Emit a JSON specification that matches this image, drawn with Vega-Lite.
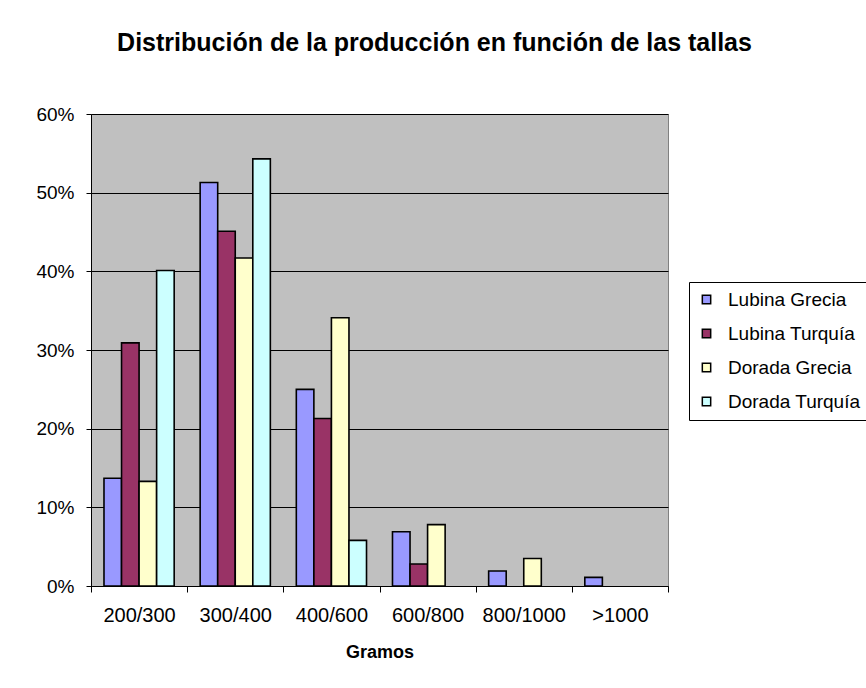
{
  "$schema": "https://vega.github.io/schema/vega-lite/v6.json",
  "width": 577,
  "height": 472,
  "autosize": {"type": "none"},
  "padding": {"left": 91, "top": 114, "right": 198, "bottom": 102},
  "background": "white",
  "title": {
    "text": "Distribución de la producción en función de las tallas",
    "anchor": "middle",
    "frame": "group",
    "dx": 55,
    "offset": 49,
    "fontSize": 25,
    "fontWeight": "bold",
    "font": "Liberation Sans",
    "color": "black"
  },
  "data": {
    "values": [
      {"talla": "200/300", "serie": "Lubina Grecia", "valor": 0.137},
      {"talla": "200/300", "serie": "Lubina Turquía", "valor": 0.309},
      {"talla": "200/300", "serie": "Dorada Grecia", "valor": 0.133},
      {"talla": "200/300", "serie": "Dorada Turquía", "valor": 0.401},
      {"talla": "300/400", "serie": "Lubina Grecia", "valor": 0.513},
      {"talla": "300/400", "serie": "Lubina Turquía", "valor": 0.451},
      {"talla": "300/400", "serie": "Dorada Grecia", "valor": 0.417},
      {"talla": "300/400", "serie": "Dorada Turquía", "valor": 0.543},
      {"talla": "400/600", "serie": "Lubina Grecia", "valor": 0.250},
      {"talla": "400/600", "serie": "Lubina Turquía", "valor": 0.213},
      {"talla": "400/600", "serie": "Dorada Grecia", "valor": 0.341},
      {"talla": "400/600", "serie": "Dorada Turquía", "valor": 0.058},
      {"talla": "600/800", "serie": "Lubina Grecia", "valor": 0.069},
      {"talla": "600/800", "serie": "Lubina Turquía", "valor": 0.028},
      {"talla": "600/800", "serie": "Dorada Grecia", "valor": 0.078},
      {"talla": "600/800", "serie": "Dorada Turquía", "valor": 0},
      {"talla": "800/1000", "serie": "Lubina Grecia", "valor": 0.019},
      {"talla": "800/1000", "serie": "Lubina Turquía", "valor": 0},
      {"talla": "800/1000", "serie": "Dorada Grecia", "valor": 0.035},
      {"talla": "800/1000", "serie": "Dorada Turquía", "valor": 0},
      {"talla": ">1000", "serie": "Lubina Grecia", "valor": 0.011},
      {"talla": ">1000", "serie": "Lubina Turquía", "valor": 0},
      {"talla": ">1000", "serie": "Dorada Grecia", "valor": 0},
      {"talla": ">1000", "serie": "Dorada Turquía", "valor": 0}
    ]
  },
  "transform": [{"filter": "datum.valor > 0"}],
  "mark": {"type": "bar", "stroke": "black", "strokeWidth": 1.6},
  "encoding": {
    "x": {
      "field": "talla",
      "type": "nominal",
      "sort": ["200/300", "300/400", "400/600", "600/800", "800/1000", ">1000"],
      "scale": {"paddingInner": 0, "paddingOuter": 0},
      "axis": {
        "title": "Gramos",
        "labelAngle": 0,
        "tickBand": "extent",
        "tickSize": 6,
        "tickColor": "black",
        "domainColor": "black",
        "labelPadding": 13,
        "labelFontSize": 20,
        "titleFontSize": 18,
        "titleFontWeight": "bold",
        "titleBaseline": "alphabetic",
        "titleY": 71,
        "grid": false
      }
    },
    "xOffset": {
      "field": "serie",
      "type": "nominal",
      "sort": ["Lubina Grecia", "Lubina Turquía", "Dorada Grecia", "Dorada Turquía"],
      "scale": {"domain": ["Lubina Grecia", "Lubina Turquía", "Dorada Grecia", "Dorada Turquía"], "paddingInner": 0, "paddingOuter": 0.74}
    },
    "y": {
      "field": "valor",
      "type": "quantitative",
      "scale": {"domain": [0, 0.6]},
      "axis": {
        "title": null,
        "format": ".0%",
        "values": [0, 0.1, 0.2, 0.3, 0.4, 0.5, 0.6],
        "tickSize": 5,
        "tickColor": "black",
        "domainColor": "black",
        "labelPadding": 12,
        "labelFontSize": 19,
        "grid": true,
        "gridColor": "black",
        "gridWidth": 1,
        "gridOpacity": 1
      }
    },
    "color": {
      "field": "serie",
      "type": "nominal",
      "scale": {
        "domain": ["Lubina Grecia", "Lubina Turquía", "Dorada Grecia", "Dorada Turquía"],
        "range": ["#9999FF", "#993366", "#FFFFCC", "#CCFFFF"]
      },
      "legend": {
        "title": null,
        "orient": "none",
        "legendX": 598,
        "legendY": 168,
        "strokeColor": "black",
        "padding": 8,
        "symbolType": "square",
        "symbolSize": 70,
        "symbolStrokeColor": "black",
        "symbolStrokeWidth": 1.5,
        "labelFontSize": 19,
        "labelOffset": 12,
        "rowPadding": 14,
        "labelColor": "black"
      }
    }
  },
  "config": {
    "font": "Liberation Sans",
    "view": {"fill": "#C0C0C0", "stroke": "#808080", "strokeWidth": 1},
    "axis": {"labelColor": "black", "titleColor": "black", "domainWidth": 1, "tickWidth": 1}
  }
}
